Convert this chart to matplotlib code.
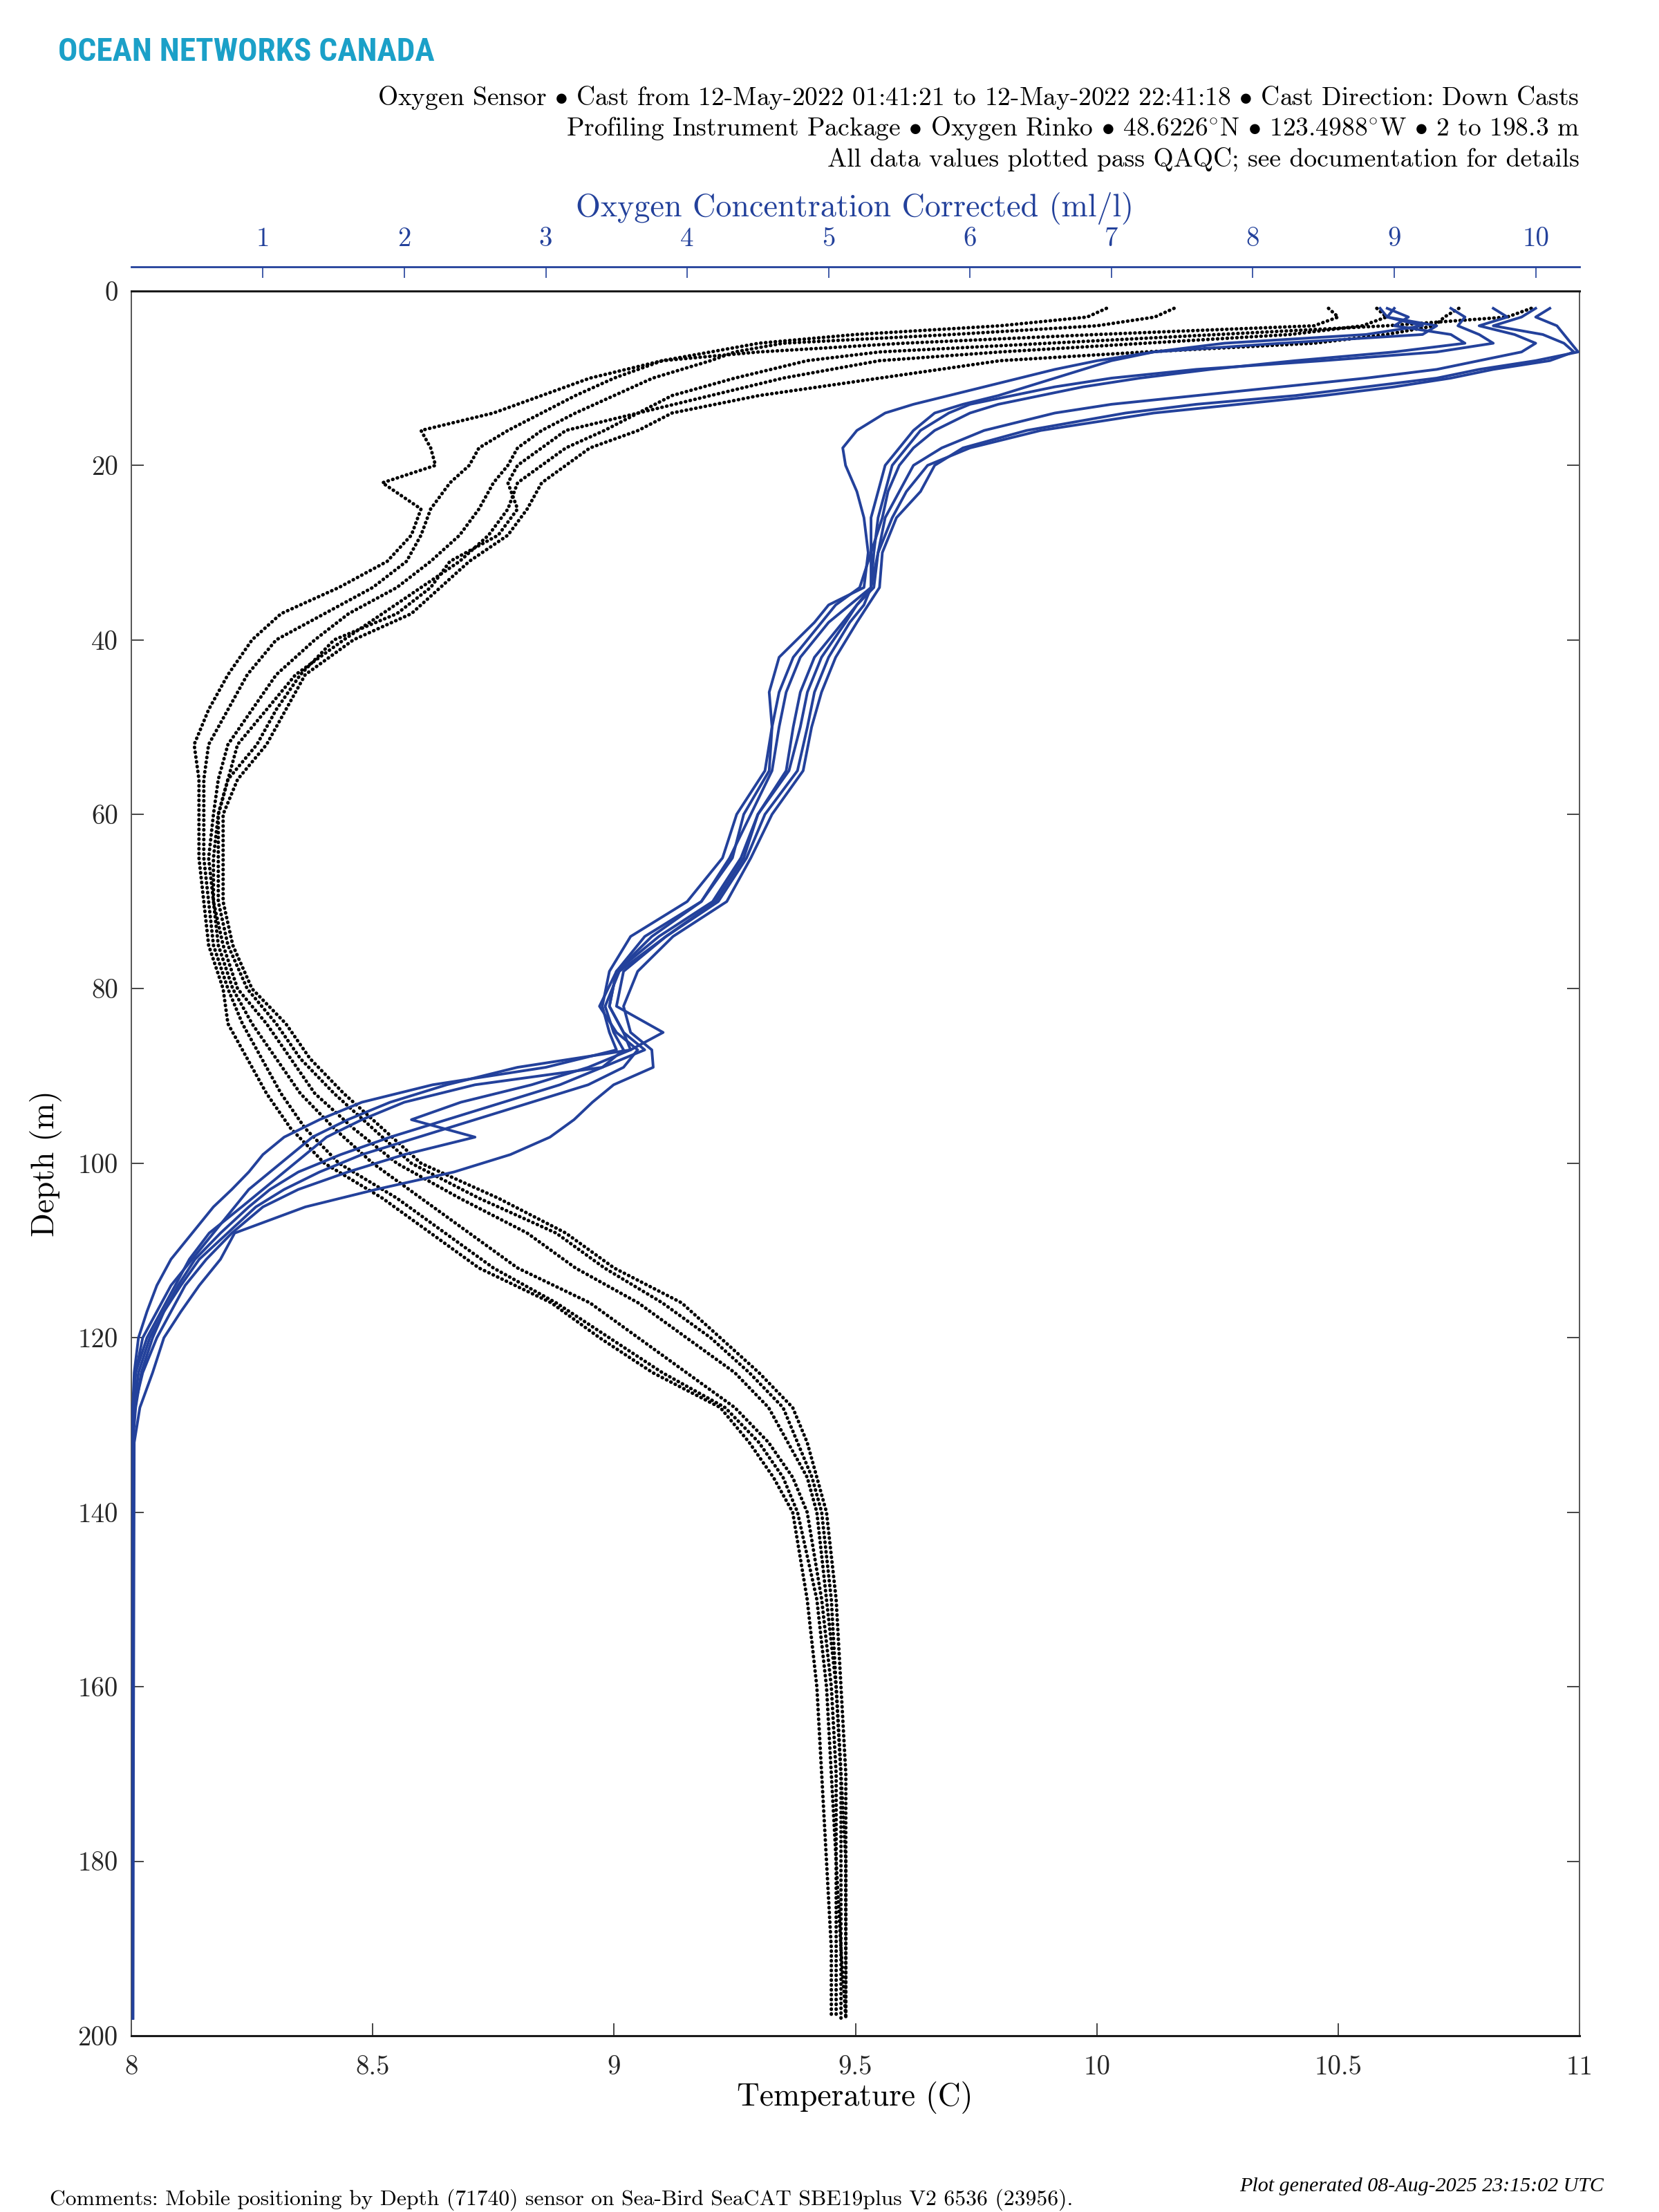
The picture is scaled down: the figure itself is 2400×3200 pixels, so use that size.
import numpy as np
import matplotlib.pyplot as plt

# Fonts: LaTeX-like serif, with fallback for bullets
plt.rcParams['font.family'] = ['cmr10', 'DejaVu Serif']
plt.rcParams['mathtext.fontset'] = 'cm'
plt.rcParams['axes.unicode_minus'] = False

# Colours
oxy_blue = '#23419B'
onc_teal = '#1BA0C8'

# Temperature casts (C) sampled at these depths (m)
temp_depth = [2, 3, 4, 5, 6, 7, 8, 10, 12, 14, 16, 18, 20, 22, 25, 28, 31, 34, 37, 40,
              44, 48, 52, 56, 60, 65, 70, 75, 80, 84, 88, 92, 96, 100, 104, 108, 112, 116, 120,
              124, 128, 132, 136, 140, 150, 160, 170, 180, 190, 198]
temp_cast_1 = [10.16, 10.12, 10.0, 9.7, 9.35, 9.25, 9.2, 9.08, 9.0, 8.92, 8.85, 8.8, 8.78, 8.75,
               8.72, 8.68, 8.62, 8.55, 8.45, 8.38, 8.3, 8.25, 8.2, 8.18, 8.17, 8.16, 8.17, 8.18,
               8.21, 8.25, 8.3, 8.35, 8.42, 8.5, 8.6, 8.7, 8.8, 8.95, 9.05, 9.15, 9.25, 9.32,
               9.37, 9.4, 9.43, 9.45, 9.46, 9.46, 9.47, 9.47]
temp_cast_2 = [10.02, 9.98, 9.8, 9.5, 9.3, 9.2, 9.1, 9.0, 8.92, 8.85, 8.78, 8.72, 8.7, 8.66,
               8.62, 8.6, 8.57, 8.5, 8.4, 8.3, 8.24, 8.2, 8.16, 8.15, 8.15, 8.15, 8.16, 8.17,
               8.2, 8.23, 8.27, 8.31, 8.36, 8.43, 8.55, 8.65, 8.75, 8.88, 8.99, 9.1, 9.23, 9.3,
               9.35, 9.38, 9.42, 9.44, 9.45, 9.46, 9.46, 9.46]
temp_cast_3 = [10.9, 10.85, 10.6, 10.25, 9.9, 9.55, 9.4, 9.25, 9.12, 9.05, 8.98, 8.9, 8.85, 8.8,
               8.78, 8.74, 8.68, 8.6, 8.52, 8.44, 8.34, 8.28, 8.22, 8.2, 8.18, 8.17, 8.17, 8.19,
               8.22, 8.28, 8.33, 8.38, 8.46, 8.55, 8.68, 8.82, 8.92, 9.05, 9.15, 9.25, 9.32, 9.36,
               9.4, 9.42, 9.44, 9.46, 9.47, 9.47, 9.47, 9.48]
temp_cast_4 = [10.58, 10.6, 10.55, 10.4, 10.1, 9.8, 9.55, 9.35, 9.2, 9.05, 8.9, 8.85, 8.8, 8.78,
               8.8, 8.76, 8.66, 8.62, 8.55, 8.42, 8.35, 8.3, 8.26, 8.2, 8.18, 8.18, 8.18, 8.2,
               8.24, 8.3, 8.35, 8.42, 8.5, 8.58, 8.72, 8.88, 8.98, 9.1, 9.2, 9.28, 9.35, 9.38,
               9.41, 9.43, 9.45, 9.46, 9.47, 9.48, 9.48, 9.48]
temp_cast_5 = [10.75, 10.72, 10.7, 10.6, 10.45, 10.1, 9.8, 9.55, 9.3, 9.12, 9.05, 8.95, 8.9, 8.85,
               8.82, 8.78, 8.7, 8.64, 8.58, 8.46, 8.36, 8.32, 8.28, 8.22, 8.19, 8.19, 8.19, 8.21,
               8.25, 8.32, 8.37, 8.44, 8.52, 8.6, 8.76, 8.9, 9.0, 9.14, 9.22, 9.3, 9.37, 9.4,
               9.42, 9.44, 9.46, 9.47, 9.48, 9.48, 9.48, 9.48]
temp_cast_6 = [10.48, 10.5, 10.45, 10.0, 9.6, 9.3, 9.1, 8.95, 8.85, 8.75, 8.6, 8.62, 8.63, 8.52,
               8.6, 8.58, 8.53, 8.43, 8.31, 8.25, 8.2, 8.16, 8.13, 8.14, 8.14, 8.14, 8.15, 8.16,
               8.19, 8.2, 8.24, 8.28, 8.33, 8.4, 8.52, 8.62, 8.72, 8.87, 8.97, 9.08, 9.22, 9.28,
               9.33, 9.37, 9.4, 9.42, 9.43, 9.44, 9.45, 9.45]
temp_casts = [temp_cast_1, temp_cast_2, temp_cast_3, temp_cast_4, temp_cast_5, temp_cast_6]

# Oxygen casts (ml/l) sampled at these depths (m)
oxy_depth = [2, 3, 4, 5, 6, 7, 8, 9, 10, 11, 12, 13, 14, 16, 18, 20, 23, 26, 30, 34, 36, 38,
             42, 46, 50, 55, 60, 65, 70, 74, 78, 82, 85, 87, 89, 91, 93, 95, 97, 99, 101, 103,
             105, 108, 111, 114, 117, 120, 124, 128, 132, 198]
oxy_cast_1 = [8.9, 8.95, 9.3, 9.2, 8.2, 7.3, 6.9, 6.6, 6.35, 6.1, 5.85, 5.6, 5.4, 5.2, 5.1, 5.12,
              5.2, 5.25, 5.28, 5.25, 5.0, 4.9, 4.65, 4.58, 4.6, 4.55, 4.35, 4.25, 4.0, 3.6, 3.45,
              3.4, 3.45, 3.5, 3.0, 2.2, 1.7, 1.4, 1.15, 1.0, 0.9, 0.78, 0.65, 0.5, 0.35, 0.25,
              0.18, 0.12, 0.09, 0.08, 0.08, 0.08]
oxy_cast_2 = [9.0, 8.95, 9.2, 8.8, 7.8, 7.3, 7.0, 6.8, 6.6, 6.4, 6.2, 5.95, 5.75, 5.6, 5.5, 5.4,
              5.35, 5.3, 5.3, 5.3, 5.15, 5.0, 4.8, 4.7, 4.65, 4.6, 4.45, 4.3, 4.1, 3.75, 3.5,
              3.45, 3.55, 3.7, 3.4, 2.5, 2.0, 1.7, 1.45, 1.3, 1.15, 1.0, 0.85, 0.62, 0.48, 0.38,
              0.28, 0.18, 0.1, 0.08, 0.08, 0.08]
oxy_cast_3 = [9.4, 9.5, 9.45, 9.6, 9.7, 9.3, 8.5, 7.6, 7.0, 6.6, 6.3, 6.0, 5.85, 5.65, 5.55, 5.45,
              5.4, 5.35, 5.32, 5.3, 5.2, 5.1, 4.9, 4.8, 4.75, 4.7, 4.5, 4.4, 4.2, 3.85, 3.55,
              3.5, 3.83, 3.6, 3.3, 2.9, 2.4, 2.05, 2.5, 2.0, 1.6, 1.25, 1.0, 0.78, 0.6, 0.45,
              0.35, 0.25, 0.15, 0.09, 0.08, 0.08]
oxy_cast_4 = [10.1, 10.0, 10.15, 10.2, 10.25, 10.3, 10.0, 9.6, 9.3, 8.8, 8.3, 7.6, 7.1, 6.4, 5.95,
              5.75, 5.65, 5.48, 5.38, 5.36, 5.28, 5.2, 5.05, 4.95, 4.88, 4.82, 4.6, 4.45, 4.28,
              3.9, 3.65, 3.55, 3.6, 3.75, 3.76, 3.48, 3.33, 3.2, 3.03, 2.75, 2.35, 1.8, 1.3, 0.8,
              0.7, 0.55, 0.42, 0.3, 0.22, 0.13, 0.09, 0.08]
oxy_cast_5 = [9.7, 9.8, 9.6, 9.85, 10.0, 9.9, 9.6, 9.3, 8.8, 8.2, 7.6, 7.0, 6.6, 6.1, 5.8, 5.6,
              5.5, 5.4, 5.35, 5.32, 5.2, 5.12, 4.95, 4.85, 4.8, 4.72, 4.5, 4.38, 4.18, 3.8, 3.5,
              3.38, 3.5, 3.65, 3.55, 3.3, 2.9, 2.5, 2.1, 1.7, 1.4, 1.15, 0.95, 0.75, 0.55, 0.42,
              0.3, 0.2, 0.12, 0.09, 0.08, 0.08]
oxy_cast_6 = [8.95, 9.1, 9.0, 9.4, 9.5, 9.0, 8.3, 7.7, 7.2, 6.8, 6.5, 6.2, 6.0, 5.75, 5.6, 5.5,
              5.42, 5.38, 5.3, 5.22, 5.05, 4.95, 4.75, 4.65, 4.6, 4.58, 4.4, 4.32, 4.1, 3.7, 3.5,
              3.45, 3.55, 3.6, 2.8, 2.3, 1.9, 1.6, 1.35, 1.2, 1.05, 0.9, 0.8, 0.65, 0.5, 0.35,
              0.25, 0.15, 0.1, 0.08, 0.08, 0.08]
oxy_cast_7 = [10.0, 9.9, 9.7, 10.05, 10.2, 10.27, 10.1, 9.7, 9.4, 9.0, 8.5, 7.9, 7.3, 6.5, 6.0,
              5.7, 5.55, 5.45, 5.35, 5.3, 5.25, 5.15, 5.0, 4.9, 4.85, 4.78, 4.55, 4.42, 4.22,
              3.85, 3.52, 3.42, 3.48, 3.55, 3.4, 3.1, 2.7, 2.3, 1.9, 1.55, 1.25, 1.05, 0.9, 0.7,
              0.52, 0.4, 0.3, 0.22, 0.14, 0.1, 0.08, 0.08]
oxy_casts = [oxy_cast_1, oxy_cast_2, oxy_cast_3, oxy_cast_4, oxy_cast_5, oxy_cast_6, oxy_cast_7]

# Axis ticks
temp_ticks = [8, 8.5, 9, 9.5, 10, 10.5, 11]
temp_tick_labels = ['8', '8.5', '9', '9.5', '10', '10.5', '11']
oxy_ticks = [1, 2, 3, 4, 5, 6, 7, 8, 9, 10]
depth_ticks = [0, 20, 40, 60, 80, 100, 120, 140, 160, 180, 200]

# Header / footer text
header_lines = [
    'Oxygen Sensor $\\bullet$ Cast from 12-May-2022 01:41:21 to 12-May-2022 22:41:18 $\\bullet$ Cast Direction: Down Casts',
    'Profiling Instrument Package $\\bullet$ Oxygen Rinko $\\bullet$ 48.6226$^{\\circ}$N $\\bullet$ 123.4988$^{\\circ}$W $\\bullet$ 2 to 198.3 m',
    'All data values plotted pass QAQC; see documentation for details',
]
comment_text = 'Comments: Mobile positioning by Depth (71740) sensor on Sea-Bird SeaCAT SBE19plus V2 6536 (23956).'
generated_text = 'Plot generated 08-Aug-2025 23:15:02 UTC'

fig = plt.figure(figsize=(12, 16), dpi=200)
ax = fig.add_axes([0.0792, 0.0797, 0.8729, 0.7888])

# Temperature: dotted black traces
for cast in temp_casts:
    ax.plot(cast, temp_depth, color='black', lw=1.8, linestyle=(0, (0.1, 1.3)),
            dash_capstyle='round')

ax.set_xlim(8, 11)
ax.set_ylim(200, 0)
ax.set_xticks(temp_ticks)
ax.set_xticklabels(temp_tick_labels)
ax.set_yticks(depth_ticks)
ax.tick_params(direction='in', length=6.5, width=0.6, top=True, right=True,
               labelsize=14, colors='#262626')
ax.tick_params(axis='x', pad=10)
ax.tick_params(axis='y', pad=7)
for side in ['left', 'right']:
    ax.spines[side].set_color('#555555')
    ax.spines[side].set_linewidth(0.7)
for side in ['top', 'bottom']:
    ax.spines[side].set_color('#1a1a1a')
    ax.spines[side].set_linewidth(1.1)

# Oxygen on a second x axis above the plot
ax2 = ax.twiny()
for cast in oxy_casts:
    ax2.plot(cast, oxy_depth, color=oxy_blue, lw=1.4, solid_joinstyle='round')
ax2.set_xlim(0.07, 10.31)
ax2.set_xticks(oxy_ticks)
ax2.spines['top'].set_position(('outward', 12.6))
ax2.spines['top'].set_color(oxy_blue)
ax2.spines['top'].set_linewidth(1.0)
for side in ['left', 'right', 'bottom']:
    ax2.spines[side].set_visible(False)
ax2.tick_params(axis='x', direction='in', length=5.8, width=0.6, colors=oxy_blue,
                labelsize=14, pad=8)

# Labels
fig.text(0.5154, 0.0516, 'Temperature (C)', ha='center', va='center', fontsize=16.4)
fig.text(0.0279, 0.474, 'Depth (m)', ha='center', va='center', fontsize=16.4, rotation=90)
fig.text(0.5154, 0.9057, 'Oxygen Concentration Corrected (ml/l)', ha='center', va='center',
         fontsize=16.6, color=oxy_blue)

# Header
fig.text(0.035, 0.9766, 'OCEAN NETWORKS CANADA', ha='left', va='center', fontsize=17,
         color=onc_teal, fontweight='bold', fontstretch='condensed',
         family=['Roboto Condensed', 'DejaVu Sans'])
for i, line in enumerate(header_lines):
    fig.text(0.952, 0.9559 - i * 0.0140, line, ha='right', va='center', fontsize=13.5)

# Footer
fig.text(0.03, 0.0055, comment_text, ha='left', va='center', fontsize=11.4)
fig.text(0.9667, 0.0116, generated_text, ha='right', va='center', fontsize=10.8,
         style='italic', family=['Liberation Serif', 'DejaVu Serif'])

fig.savefig('out.png', dpi=200)
